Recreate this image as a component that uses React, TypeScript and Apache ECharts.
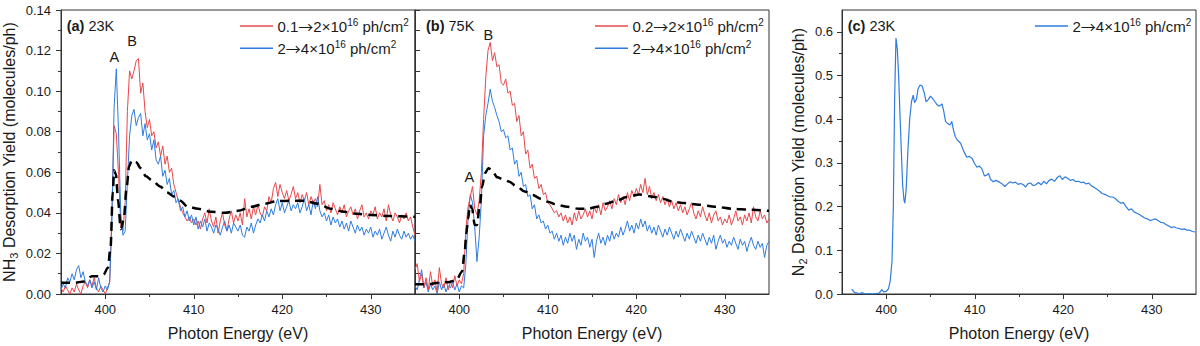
import React, { useEffect, useRef } from 'react';
import * as echarts from 'echarts';

// ---------- data ----------
// shared energy sampling grid (eV) for the noisy NH3 spectra, 395 .. 435 in 0.25 eV steps
const E_GRID: number[] = Array.from({ length: 161 }, (_, i) => +(395 + i * 0.25).toFixed(2));

const X_TICKS = [400, 410, 420, 430];
const X_MINOR = [405, 415, 425];
const Y_TICKS_C = [0, 0.1, 0.2, 0.3, 0.4, 0.5, 0.6];
const Y_MINOR_C = [0.05, 0.15, 0.25, 0.35, 0.45, 0.55];

// (a) 23K
const A_RED = [
  0.003,0.001,0.004,0.002,0.000,0.003,0.001,0.005,0.002,0.000,0.004,0.006,0.003,0.007,0.004,0.008,0.003,0.001,0.004,0.002,
  0.000,0.003,0.006,0.040,0.083,0.079,0.059,0.034,0.031,0.045,0.090,0.110,0.106,0.110,0.115,0.116,0.099,0.104,0.090,0.082,
  0.086,0.078,0.080,0.072,0.075,0.068,0.073,0.064,0.068,0.060,0.062,0.054,0.050,0.046,0.043,0.040,0.038,0.036,0.038,0.035,
  0.037,0.034,0.036,0.032,0.037,0.040,0.035,0.042,0.036,0.033,0.038,0.030,0.036,0.040,0.034,0.031,0.037,0.041,0.035,0.039,
  0.036,0.040,0.034,0.047,0.038,0.042,0.037,0.043,0.039,0.044,0.040,0.038,0.043,0.041,0.048,0.045,0.052,0.055,0.048,0.054,
  0.050,0.047,0.051,0.046,0.049,0.053,0.047,0.050,0.045,0.049,0.046,0.050,0.044,0.048,0.045,0.047,0.043,0.054,0.044,0.046,
  0.041,0.044,0.040,0.045,0.042,0.039,0.043,0.040,0.044,0.038,0.041,0.043,0.039,0.042,0.037,0.041,0.044,0.038,0.040,0.037,
  0.041,0.039,0.043,0.037,0.040,0.038,0.042,0.036,0.044,0.039,0.036,0.040,0.038,0.035,0.039,0.037,0.040,0.036,0.038,0.033,
  0.029,
];
const A_BLUE = [
  0.002,0.005,0.003,0.008,0.006,0.010,0.007,0.012,0.014,0.008,0.011,0.006,0.004,0.007,0.003,0.006,0.002,0.008,0.003,0.001,
  0.004,0.002,0.006,0.035,0.092,0.111,0.080,0.040,0.029,0.031,0.055,0.078,0.088,0.091,0.083,0.087,0.089,0.078,0.084,0.076,
  0.079,0.071,0.076,0.066,0.064,0.068,0.058,0.061,0.054,0.057,0.049,0.051,0.045,0.047,0.041,0.043,0.038,0.041,0.036,0.039,
  0.034,0.038,0.032,0.036,0.033,0.037,0.031,0.035,0.033,0.030,0.034,0.032,0.029,0.033,0.036,0.031,0.034,0.030,0.035,0.033,
  0.031,0.034,0.029,0.028,0.033,0.031,0.035,0.030,0.034,0.037,0.035,0.039,0.036,0.041,0.038,0.042,0.039,0.044,0.047,0.041,
  0.045,0.040,0.043,0.046,0.041,0.044,0.042,0.045,0.040,0.043,0.047,0.041,0.044,0.039,0.046,0.042,0.048,0.041,0.038,0.040,
  0.036,0.039,0.034,0.038,0.035,0.037,0.033,0.036,0.032,0.035,0.031,0.036,0.033,0.030,0.034,0.031,0.033,0.029,0.032,0.030,
  0.033,0.028,0.031,0.029,0.032,0.027,0.030,0.033,0.029,0.026,0.031,0.028,0.032,0.029,0.027,0.031,0.028,0.030,0.027,0.029,
  0.026,
];
const A_DASH: number[][] = [
  [395.0,0.0055],[396.5,0.0055],[397.6,0.0062],[398.5,0.0088],[399.2,0.0088],[399.8,0.0095],[400.3,0.013],[400.6,0.023],
  [400.85,0.050],[401.0,0.061],[401.2,0.059],[401.45,0.046],[401.75,0.032],[402.1,0.037],[402.4,0.052],[402.7,0.063],
  [403.0,0.066],[403.5,0.065],[404.0,0.062],[404.6,0.058],[405.3,0.056],[406.2,0.053],[407.0,0.050],[407.8,0.048],
  [408.5,0.046],[409.3,0.043],[410.5,0.042],[412.0,0.0405],[413.5,0.040],[415.0,0.041],[416.5,0.043],[418.0,0.0445],
  [419.5,0.0458],[421.0,0.046],[422.5,0.046],[424.0,0.0445],[425.5,0.042],[427.0,0.0405],[428.5,0.0395],[430.0,0.039],
  [432.0,0.0385],[435.0,0.038],
];

// (b) 75K
const B_RED = [
  0.012,0.015,0.006,0.010,0.003,0.008,0.002,0.011,0.004,0.007,0.001,0.013,0.005,0.003,0.008,0.002,0.006,0.003,0.009,0.004,
  0.007,0.005,0.010,0.032,0.043,0.048,0.053,0.042,0.039,0.046,0.060,0.086,0.107,0.120,0.124,0.115,0.119,0.112,0.113,0.104,
  0.103,0.106,0.099,0.100,0.093,0.094,0.085,0.088,0.078,0.080,0.069,0.071,0.062,0.064,0.057,0.058,0.052,0.054,0.049,0.050,
  0.045,0.044,0.042,0.040,0.041,0.038,0.040,0.036,0.039,0.035,0.038,0.034,0.040,0.036,0.041,0.037,0.039,0.042,0.038,0.041,
  0.037,0.043,0.040,0.044,0.039,0.045,0.041,0.043,0.046,0.042,0.047,0.044,0.049,0.045,0.048,0.044,0.050,0.046,0.051,0.048,
  0.052,0.049,0.054,0.050,0.057,0.049,0.053,0.047,0.050,0.046,0.049,0.045,0.048,0.044,0.047,0.043,0.046,0.042,0.045,0.041,
  0.044,0.040,0.043,0.039,0.042,0.045,0.040,0.037,0.041,0.038,0.043,0.039,0.036,0.040,0.035,0.039,0.041,0.036,0.038,0.034,
  0.037,0.035,0.039,0.034,0.037,0.041,0.036,0.038,0.034,0.039,0.036,0.040,0.035,0.043,0.038,0.036,0.041,0.037,0.039,0.035,
  0.037,
];
const B_BLUE = [
  0.004,0.002,0.007,0.012,0.003,0.006,0.001,0.005,0.002,0.004,0.000,0.006,0.002,0.005,0.001,0.004,0.003,0.006,0.002,0.005,
  0.001,0.004,0.003,0.015,0.038,0.049,0.045,0.033,0.016,0.028,0.046,0.078,0.088,0.094,0.101,0.095,0.092,0.088,0.085,0.080,
  0.081,0.077,0.078,0.071,0.072,0.064,0.066,0.058,0.060,0.053,0.054,0.048,0.049,0.042,0.044,0.037,0.039,0.035,0.036,0.032,
  0.034,0.030,0.031,0.027,0.030,0.026,0.029,0.024,0.028,0.025,0.030,0.026,0.029,0.022,0.027,0.024,0.030,0.026,0.028,0.023,
  0.027,0.018,0.026,0.030,0.025,0.028,0.024,0.029,0.026,0.031,0.027,0.030,0.028,0.033,0.029,0.032,0.036,0.031,0.034,0.030,
  0.035,0.032,0.037,0.033,0.036,0.031,0.034,0.030,0.033,0.029,0.034,0.031,0.028,0.032,0.029,0.033,0.030,0.027,0.031,0.028,
  0.032,0.029,0.026,0.030,0.027,0.031,0.028,0.025,0.029,0.026,0.030,0.027,0.024,0.028,0.025,0.029,0.022,0.026,0.029,0.025,
  0.027,0.023,0.026,0.024,0.028,0.025,0.022,0.027,0.024,0.026,0.021,0.025,0.028,0.024,0.022,0.026,0.023,0.025,0.018,0.024,
  0.026,
];
const B_DASH: number[][] = [
  [395.0,0.0048],[396.5,0.0048],[397.6,0.0056],[398.7,0.0058],[399.7,0.0069],[400.3,0.011],[400.6,0.020],[400.8,0.030],
  [401.0,0.037],[401.2,0.044],[401.45,0.042],[401.75,0.034],[402.0,0.034],[402.3,0.043],[402.6,0.053],[402.9,0.0595],
  [403.3,0.062],[403.7,0.061],[404.3,0.0575],[405.0,0.0565],[405.6,0.0555],[406.5,0.053],[407.4,0.0505],[408.3,0.0488],
  [409.2,0.047],[410.0,0.0455],[411.0,0.044],[412.2,0.043],[413.5,0.042],[414.5,0.042],[415.6,0.043],[416.6,0.0445],
  [417.8,0.046],[418.9,0.0478],[420.4,0.049],[421.9,0.048],[423.0,0.047],[424.1,0.0455],[425.5,0.0448],[427.1,0.044],
  [429.0,0.043],[430.9,0.042],[433.0,0.0415],[435.0,0.041],
];

// (c) 23K, N2
const C_BLUE: number[][] = [
  [396.1,0.011],[396.4,0.004],[396.7,0.002],[397.0,0.001],[397.3,0.003],[397.6,0.000],[398.0,0.001],[398.4,0.000],
  [398.8,0.001],[399.2,0.002],[399.5,0.010],[399.7,0.005],[400.0,0.006],[400.25,0.012],[400.45,0.030],[400.65,0.075],
  [400.8,0.200],[400.95,0.450],[401.1,0.586],[401.25,0.560],[401.4,0.500],[401.55,0.410],[401.7,0.330],[401.85,0.250],
  [402.0,0.215],[402.1,0.208],[402.25,0.240],[402.45,0.330],[402.65,0.400],[402.85,0.440],[403.05,0.455],[403.2,0.438],
  [403.4,0.445],[403.6,0.470],[403.8,0.478],[404.05,0.476],[404.3,0.460],[404.5,0.440],[404.75,0.445],[405.0,0.453],
  [405.25,0.447],[405.5,0.440],[405.75,0.433],[406.0,0.430],[406.3,0.435],[406.5,0.418],[406.7,0.395],[406.95,0.390],
  [407.2,0.387],[407.4,0.395],[407.6,0.375],[407.8,0.360],[408.05,0.352],[408.4,0.345],[408.75,0.327],[409.1,0.313],
  [409.4,0.315],[409.7,0.310],[410.0,0.298],[410.25,0.290],[410.5,0.293],[410.8,0.287],[411.1,0.270],[411.35,0.272],
  [411.55,0.276],[411.8,0.262],[412.1,0.257],[412.4,0.260],[412.8,0.256],[413.1,0.252],[413.4,0.246],[413.7,0.252],
  [414.0,0.257],[414.3,0.254],[414.6,0.256],[414.9,0.251],[415.2,0.253],[415.5,0.250],[415.75,0.245],[416.0,0.252],
  [416.3,0.254],[416.6,0.248],[416.9,0.250],[417.2,0.255],[417.5,0.250],[417.8,0.258],[418.1,0.252],[418.4,0.260],
  [418.7,0.263],[419.0,0.258],[419.3,0.266],[419.6,0.271],[419.9,0.262],[420.2,0.268],[420.5,0.265],[420.8,0.260],
  [421.1,0.262],[421.4,0.257],[421.7,0.258],[422.0,0.255],[422.3,0.256],[422.6,0.252],[422.9,0.254],[423.2,0.247],
  [423.5,0.244],[423.8,0.240],[424.1,0.235],[424.4,0.230],[424.7,0.228],[425.0,0.225],[425.3,0.222],[425.6,0.222],
  [425.9,0.218],[426.2,0.212],[426.5,0.208],[426.8,0.209],[427.1,0.200],[427.4,0.192],[427.7,0.195],[428.0,0.188],
  [428.3,0.185],[428.6,0.182],[428.9,0.178],[429.2,0.174],[429.5,0.172],[429.8,0.168],[430.1,0.170],[430.4,0.172],
  [430.7,0.168],[431.0,0.164],[431.3,0.163],[431.6,0.159],[431.9,0.156],[432.2,0.152],[432.5,0.154],[432.8,0.151],
  [433.1,0.150],[433.4,0.148],[433.7,0.149],[434.0,0.146],[434.3,0.146],[434.6,0.143],[434.9,0.142],
];

// texts
const LEG_A_RED = '{n|0.1}{a|→}{n|2×10}{s|16}{n| ph/cm}{s|2}';
const LEG_B_RED = '{n|0.2}{a|→}{n|2×10}{s|16}{n| ph/cm}{s|2}';
const LEG_BLUE = '{n|2}{a|→}{n|4×10}{s|16}{n| ph/cm}{s|2}';
const TITLE_A = '{b|(a)}{n| 23K}';
const TITLE_B = '{b|(b)}{n| 75K}';
const TITLE_C = '{b|(c)}{n| 23K}';
const X_NAME = 'Photon Energy (eV)';
const Y_NAME_NH3 = '{n|NH}{sub|3}{n| Desorption Yield (molecules/ph)}';
const Y_NAME_N2 = '{n|N}{sub|2}{n| Desorption Yield (molecules/ph)}';

// ---------- style ----------
const FONT = '"Liberation Sans", Arial, Helvetica, sans-serif';
const ARROW_FONT = '"Noto Sans CJK SC", "DejaVu Sans", sans-serif';
const AX = '#333333';
const TXT = '#1a1a1a';
const RED = '#e8474b';
const BLUE = '#2f7ce0';

const pairs = (vals: number[]) => vals.map((v, i) => [E_GRID[i], v]);

function xAxesFor(gridIndex: number) {
  return [
    {
      type: 'value', gridIndex, min: 395, max: 435, position: 'bottom',
      axisLine: { show: true, onZero: false, lineStyle: { color: AX, width: 1 } },
      axisTick: { show: true, customValues: X_TICKS, length: 5, lineStyle: { color: AX, width: 1 } },
      axisLabel: { customValues: X_TICKS, fontSize: 13, color: TXT, fontFamily: FONT, margin: 9 },
      splitLine: { show: false },
      name: X_NAME, nameLocation: 'middle', nameGap: 31,
      nameTextStyle: { fontSize: 16, color: TXT, fontFamily: FONT },
    },
    {
      type: 'value', gridIndex, min: 395, max: 435, position: 'bottom',
      axisLine: { show: false },
      axisTick: { show: true, customValues: X_MINOR, length: 3, lineStyle: { color: AX, width: 1 } },
      axisLabel: { show: false },
      splitLine: { show: false },
    },
  ];
}

const yNameStyle = {
  fontSize: 16, color: TXT, fontFamily: FONT,
  rich: {
    n: { fontSize: 16, color: TXT, fontFamily: FONT, lineHeight: 20 },
    sub: { fontSize: 11, color: TXT, fontFamily: FONT, lineHeight: 11, verticalAlign: 'bottom' },
  },
};

const RICH_LEG = {
  n: { fontSize: 15, fontFamily: FONT, fill: TXT, lineHeight: 17 },
  a: { fontSize: 15, fontFamily: ARROW_FONT, fill: TXT, lineHeight: 17 },
  s: { fontSize: 10, fontFamily: FONT, fill: TXT, lineHeight: 10, verticalAlign: 'top' },
};
const RICH_TITLE = {
  b: { fontSize: 14.5, fontFamily: FONT, fill: TXT, fontWeight: 'bold', lineHeight: 16 },
  n: { fontSize: 14.5, fontFamily: FONT, fill: TXT, lineHeight: 16 },
};

function legendItem(x1: number, x2: number, y: number, color: string, text: string) {
  return [
    { type: 'line', silent: true, shape: { x1, y1: y, x2, y2: y }, style: { stroke: color, lineWidth: 1.5 } },
    {
      type: 'text', silent: true, x: x2 + 4.5, y,
      style: { text, rich: RICH_LEG, align: 'left', verticalAlign: 'middle', textAlign: 'left', textVerticalAlign: 'middle' },
    },
  ];
}
function richText(x: number, y: number, text: string) {
  return {
    type: 'text', silent: true, x, y,
    style: { text, rich: RICH_TITLE, align: 'left', verticalAlign: 'middle', textAlign: 'left', textVerticalAlign: 'middle' },
  };
}
function peakLabel(x: number, y: number, text: string) {
  return {
    type: 'text', silent: true, x, y,
    style: {
      text, fontSize: 14.5, fontFamily: FONT, fill: TXT,
      align: 'center', verticalAlign: 'middle', textAlign: 'center', textVerticalAlign: 'middle',
    },
  };
}

function lineSeries(xi: number, yi: number, data: number[][], color: string, width = 1) {
  return {
    type: 'line', xAxisIndex: xi, yAxisIndex: yi, data, symbol: 'none', showSymbol: false,
    lineStyle: { color, width }, itemStyle: { color }, silent: true, z: 2,
  };
}
function dashSeries(xi: number, yi: number, data: number[][]) {
  return {
    type: 'line', xAxisIndex: xi, yAxisIndex: yi, data, symbol: 'none', showSymbol: false,
    smooth: 0.3, smoothMonotone: 'x',
    lineStyle: { color: '#000', width: 2.5, type: [9, 6] }, itemStyle: { color: '#000' }, silent: true, z: 3,
  };
}

export default function App() {
  const ref = useRef<HTMLDivElement>(null);
  useEffect(() => {
    document.body.style.margin = '0';
    if (!ref.current) return;
    const chart = echarts.init(ref.current, undefined, { renderer: 'svg' });
    const gridBase = { top: 10, height: 284, width: 354, show: true, borderColor: AX, borderWidth: 1, backgroundColor: 'transparent', containLabel: false };
    const option: any = {
      animation: false,
      backgroundColor: '#ffffff',
      grid: [
        { ...gridBase, left: 61 },
        { ...gridBase, left: 415 },
        { ...gridBase, left: 842 },
      ],
      xAxis: [...xAxesFor(0), ...xAxesFor(1), ...xAxesFor(2)],
      yAxis: [
        {
          type: 'value', gridIndex: 0, min: 0, max: 0.14, interval: 0.02,
          axisLine: { show: true, lineStyle: { color: AX, width: 1 } },
          axisTick: { show: true, length: 5, lineStyle: { color: AX } },
          minorTick: { show: true, splitNumber: 2, length: 3, lineStyle: { color: AX } },
          axisLabel: { formatter: (v: number) => v.toFixed(2), fontSize: 13, color: TXT, fontFamily: FONT, margin: 10 },
          splitLine: { show: false }, minorSplitLine: { show: false },
          name: Y_NAME_NH3, nameLocation: 'middle', nameGap: 42, nameTextStyle: yNameStyle,
        },
        {
          type: 'value', gridIndex: 1, min: 0, max: 0.14, interval: 0.02,
          axisLine: { show: true, lineStyle: { color: AX, width: 1 } },
          axisTick: { show: true, inside: true, length: 5, lineStyle: { color: AX } },
          minorTick: { show: true, splitNumber: 2, length: 5, lineStyle: { color: AX } },
          axisLabel: { show: false },
          splitLine: { show: false }, minorSplitLine: { show: false },
        },
        {
          type: 'value', gridIndex: 2, min: 0, max: 0.65, interval: 0.1,
          axisLine: { show: true, lineStyle: { color: AX, width: 1 } },
          axisTick: { show: true, customValues: Y_TICKS_C, length: 5, lineStyle: { color: AX } },
          axisLabel: { customValues: Y_TICKS_C, formatter: (v: number) => v.toFixed(1), fontSize: 13, color: TXT, fontFamily: FONT, margin: 9 },
          splitLine: { show: false },
          name: Y_NAME_N2, nameLocation: 'middle', nameGap: 34, nameTextStyle: yNameStyle,
        },
        {
          type: 'value', gridIndex: 2, min: 0, max: 0.65, position: 'left',
          axisLine: { show: false },
          axisTick: { show: true, customValues: Y_MINOR_C, length: 3, lineStyle: { color: AX } },
          axisLabel: { show: false },
          splitLine: { show: false },
        },
      ],
      series: [
        lineSeries(0, 0, pairs(A_RED), RED),
        lineSeries(0, 0, pairs(A_BLUE), BLUE),
        dashSeries(0, 0, A_DASH),
        lineSeries(2, 1, pairs(B_BLUE), BLUE),
        lineSeries(2, 1, pairs(B_RED), RED),
        dashSeries(2, 1, B_DASH),
        lineSeries(4, 2, C_BLUE, BLUE, 1.2),
      ],
      graphic: [
        richText(66.7, 26, TITLE_A),
        richText(426, 26, TITLE_B),
        richText(847.7, 26, TITLE_C),
        peakLabel(114.3, 57.3, 'A'),
        peakLabel(132, 40.7, 'B'),
        peakLabel(469.3, 176.7, 'A'),
        peakLabel(488.3, 35, 'B'),
        ...legendItem(240, 273, 26, RED, LEG_A_RED),
        ...legendItem(240, 273, 48.3, BLUE, LEG_BLUE),
        ...legendItem(595, 628, 26, RED, LEG_B_RED),
        ...legendItem(595, 628, 48.3, BLUE, LEG_BLUE),
        ...legendItem(1035, 1068, 26, BLUE, LEG_BLUE),
      ],
    };
    chart.setOption(option);
    return () => chart.dispose();
  }, []);
  return <div ref={ref} style={{ width: 1200, height: 346 }} />;
}
